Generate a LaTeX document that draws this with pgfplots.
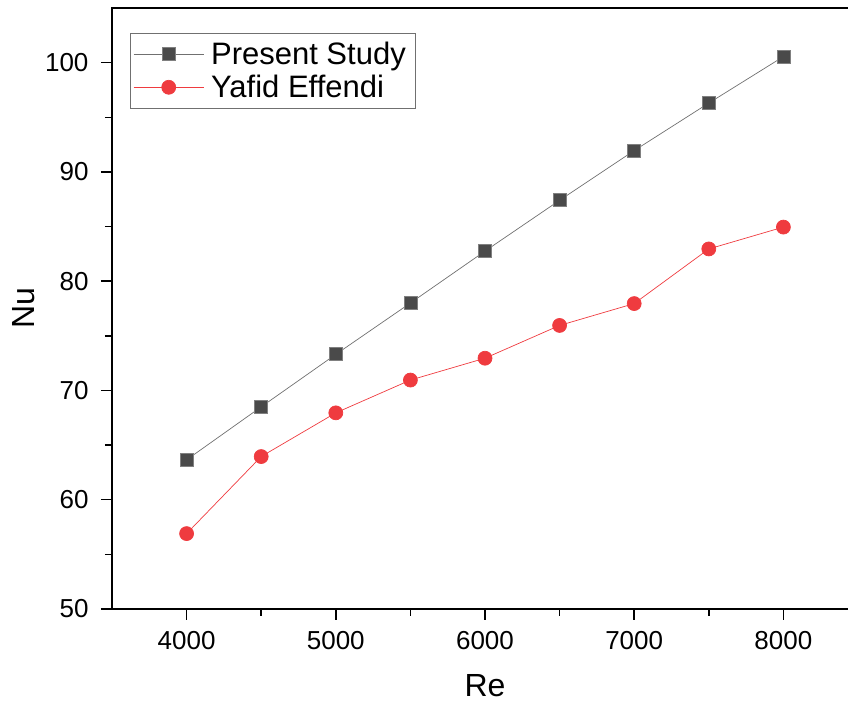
\documentclass[border=0pt]{standalone}
\usepackage{fontspec}
\setmainfont{Liberation Sans}
\usepackage{pgfplots}
\pgfplotsset{compat=1.18}
\definecolor{sqgray}{HTML}{4A4A4A}
\definecolor{linegray}{HTML}{707070}
\definecolor{cred}{HTML}{EF3B3F}
\begin{document}
\begin{tikzpicture}
\begin{axis}[
  name=ax,
  scale only axis,
  width=746pt, height=601pt,
  xmin=3500, xmax=8500, ymin=50, ymax=105,
  axis line style={line width=1.4pt},
  xtick={4000,5000,6000,7000,8000},
  ytick={50,60,70,80,90,100},
  minor xtick={4500,5500,6500,7500},
  minor ytick={55,65,75,85,95},
  tick pos=left,
  tick align=outside,
  major tick length=11pt, minor tick length=7pt,
  tick style={black, line width=1.5pt},
  every major tick/.append style={black, line width=1.5pt},
  every minor tick/.append style={black, line width=1.5pt},
  /pgf/number format/assume math mode=true,
  /pgf/number format/1000 sep={},
  ticklabel style={font=\fontsize{26}{29}\selectfont},
  xticklabel style={yshift=-8pt},
  yticklabel style={xshift=-9pt},
  xlabel={Re}, ylabel={Nu},
  label style={font=\fontsize{32}{36}\selectfont},
  xlabel style={at={(rel axis cs:0.5,0)}, anchor=center, yshift=-77pt},
  ylabel style={at={(rel axis cs:0,0.5)}, anchor=center, yshift=88pt},
  legend style={at={(rel axis cs:0.0241,0.9585)}, anchor=north west, draw=linegray, line width=0.8pt,
    font=\fontsize{31}{34}\selectfont, inner xsep=3pt, inner ysep=9pt, row sep=9pt,
    nodes={inner xsep=7pt, inner ysep=0pt}},
  legend cell align=left,
  legend image code/.code={
    \draw[#1, mark repeat=2, mark phase=2] plot coordinates {(0pt,0pt) (35pt,0pt) (70pt,0pt)};
  },
]
\addplot[linegray, line width=0.7pt, mark=square*, mark size=6.5pt, mark options={fill=sqgray, draw=sqgray!70!white, line width=0.8pt}]
coordinates {(4000,63.65) (4500,68.5) (5000,73.3) (5500,78.0) (6000,82.75) (6500,87.4) (7000,91.95) (7500,96.3) (8000,100.55)};
\addlegendentry{Present Study}
\addplot[cred, line width=0.7pt, mark=*, mark size=7pt, mark options={fill=cred, draw=cred}]
coordinates {(4000,56.9) (4500,63.95) (5000,67.95) (5500,70.95) (6000,72.95) (6500,75.95) (7000,77.95) (7500,82.95) (8000,84.95)};
\addlegendentry{Yafid Effendi}
\end{axis}
\pgfresetboundingbox
\useasboundingbox ([xshift=-112pt,yshift=-93pt]ax.south west) rectangle ([xshift=-10pt,yshift=8pt]ax.north east);
\end{tikzpicture}
\end{document}
